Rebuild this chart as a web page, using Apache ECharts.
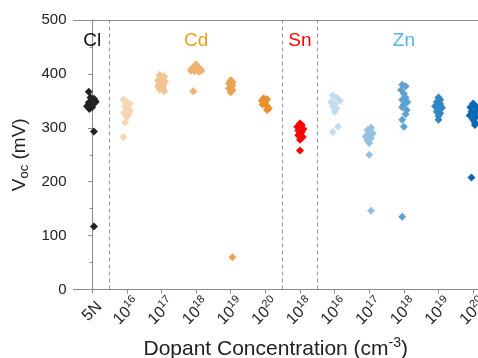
<!DOCTYPE html>
<html>
<head>
<meta charset="utf-8">
<script src="https://cdn.jsdelivr.net/npm/echarts@6/dist/echarts.min.js"></script>
<style>html,body{margin:0;padding:0;background:#fff}#c{width:478px;height:358px}</style>
</head>
<body>
<div id="c"></div>
<script>
// Categories (x tick labels): [base, exponent]
var tickLabels = [["5N",""],["10","16"],["10","17"],["10","18"],["10","19"],["10","20"],["10","18"],["10","16"],["10","17"],["10","18"],["10","19"],["10","20"]];
var groupNames = ["Cl", "Cd", "Sn", "Zn"];
var groupCenters = [0, 3, 6, 9];
var groupLabelY = 462;
var separators = [0.5, 5.5, 6.5];

// Voc values (mV) per category, with horizontal jitter (category units)
var cl5N   = [367,356,352,350,347,345,343,348,340,338,335,354,293,117];
var cl5NJ  = [-0.1,-0.05,0.0,0.08,-0.1,0.05,-0.05,0.1,-0.15,0.0,-0.08,0.05,0.05,0.05];
var cd16   = [352,348,345,340,337,331,328,325,320,310,283];
var cd16J  = [-0.1,0.0,0.08,-0.05,0.02,0.1,-0.08,0.05,0.0,-0.05,-0.1];
var cd17   = [398,395,392,388,386,383,380,377,374,371,368];
var cd17J  = [-0.05,0.08,0.0,-0.1,0.1,-0.05,0.05,-0.1,0.05,-0.05,0.08];
var cd18   = [418,414,413,410,410,409,406,406,405,404,368];
var cd18J  = [0.0,-0.05,0.05,-0.12,0.0,0.12,-0.15,0.15,-0.05,0.08,-0.08];
var cd19   = [388,385,382,379,376,373,370,366,60];
var cd19J  = [0.0,0.05,-0.05,0.05,0.0,-0.05,0.05,0.0,0.05];
var cd20   = [355,353,350,347,343,340,336,333];
var cd20J  = [-0.05,0.05,-0.1,0.0,-0.08,0.05,0.1,0.05];
var sn18   = [308,305,302,298,295,292,289,286,283,278,258];
var sn18J  = [0.0,0.05,-0.08,0.1,-0.05,0.05,0.0,-0.05,0.08,0.0,0.0];
var zn16   = [360,356,350,348,344,340,336,330,302,292];
var zn16J  = [-0.05,0.05,0.15,-0.1,0.0,-0.05,0.05,0.0,0.1,-0.05];
var zn17   = [300,296,290,287,284,281,277,272,250,146];
var zn17J  = [0.05,-0.05,0.1,0.0,-0.1,0.05,-0.05,0.0,0.0,0.05];
var zn18   = [380,377,370,363,356,352,348,343,338,333,325,315,302,135];
var zn18J  = [-0.05,0.05,-0.08,0.0,0.05,-0.05,0.1,0.0,-0.05,0.08,0.05,-0.05,0.0,-0.05];
var zn19   = [356,352,348,344,340,337,334,330,327,322,315];
var zn19J  = [0.0,0.05,-0.05,0.05,-0.1,0.1,0.0,-0.05,0.05,0.0,0.0];
var zn20   = [345,342,338,335,330,327,323,320,315,310,305,208];
var zn20J  = [0.0,0.05,-0.08,0.1,-0.05,0.05,-0.1,0.08,0.0,0.05,0.05,-0.05];

var seriesValues = [cl5N, cd16, cd17, cd18, cd19, cd20, sn18, zn16, zn17, zn18, zn19, zn20];
var seriesJitter = [cl5NJ, cd16J, cd17J, cd18J, cd19J, cd20J, sn18J, zn16J, zn17J, zn18J, zn19J, zn20J];
var seriesColors = ["#222222","#F7D6B3","#F2C593","#EEB372","#EAA352","#E6912C","#FF0000","#C3DCEC","#95C1E0","#5FA2D2","#2F86C2","#0A69B2"];
var groupColors = ["#111111","#E8A21A","#FF0000","#5AB4E8"];

var FONT = "Liberation Sans";
var series = seriesValues.map(function (vals, i) {
  return {
    type: 'scatter',
    symbol: 'diamond',
    symbolSize: 8,
    itemStyle: { color: seriesColors[i], opacity: 1 },
    data: vals.map(function (v, k) { return [i + seriesJitter[i][k], v]; }),
    z: 3
  };
});
series.push({
  type: 'scatter',
  symbolSize: 0,
  silent: true,
  itemStyle: { opacity: 1 },
  data: groupNames.map(function (n, k) {
    return { value: [groupCenters[k], groupLabelY], name: n,
      label: { show: true, formatter: n, color: groupColors[k], fontSize: 19, fontFamily: FONT, position: 'inside' } };
  }),
  markLine: {
    silent: true,
    symbol: ['none', 'none'],
    label: { show: false },
    lineStyle: { type: [4, 3], color: '#9a9a9a', width: 1, opacity: 1 },
    data: separators.map(function (s) { return { xAxis: s }; })
  }
});

var chart = echarts.init(document.getElementById('c'));
chart.setOption({
  animation: false,
  grid: { left: 73.5, top: 20, right: 0, bottom: 68.5, outerBoundsMode: 'none', containLabel: false },
  xAxis: [{
    type: 'value',
    min: -0.54, max: 11.14,
    splitLine: { show: false },
    axisLine: { lineStyle: { color: '#8a8a8a', width: 1 } },
    axisTick: { show: true, length: 4, customValues: tickLabels.map(function (t, i) { return i; }), lineStyle: { color: '#8a8a8a' } },
    axisLabel: {
      customValues: tickLabels.map(function (t, i) { return i; }),
      rotate: 45, margin: 22, color: '#222', fontSize: 16, fontFamily: FONT,
      align: 'center', verticalAlign: 'middle', hideOverlap: false,
      formatter: function (v) {
        var t = tickLabels[Math.round(v)];
        return t[1] ? t[0] + '{sup|' + t[1] + '}' : t[0];
      },
      rich: { sup: { fontSize: 11, fontFamily: FONT, color: '#222', padding: [0, 0, 10, 0] } }
    },
    name: 'Dopant Concentration (cm{sup|-3})',
    nameLocation: 'middle',
    nameGap: 47,
    nameTextStyle: { fontSize: 21, fontFamily: FONT, color: '#222',
      rich: { sup: { fontSize: 14, fontFamily: FONT, color: '#222', padding: [0, 0, 12, 0] } } }
  }, {
    type: 'value', position: 'top', min: -0.54, max: 11.14,
    axisLine: { show: true, onZero: false, lineStyle: { color: '#8a8a8a', width: 1 } },
    axisTick: { show: false }, axisLabel: { show: false }, splitLine: { show: false }
  }],
  yAxis: {
    type: 'value', min: 0, max: 500, interval: 100,
    splitLine: { show: false },
    axisLine: { show: true, lineStyle: { color: '#8a8a8a', width: 1 } },
    axisTick: { show: true, length: 4, lineStyle: { color: '#8a8a8a' } },
    minorTick: { show: true, splitNumber: 2, length: 2.5, lineStyle: { color: '#8a8a8a' } },
    axisLabel: { color: '#222', fontSize: 15, fontFamily: FONT, margin: 7 },
    name: 'V{sub|oc} (mV)',
    nameLocation: 'middle',
    nameGap: 35,
    nameRotate: 90,
    nameTextStyle: { fontSize: 19, fontFamily: FONT, color: '#222',
      rich: { sub: { fontSize: 13, fontFamily: FONT, color: '#222', padding: [8, 0, 0, 0] } } }
  },
  series: series
});
</script>
</body>
</html>
